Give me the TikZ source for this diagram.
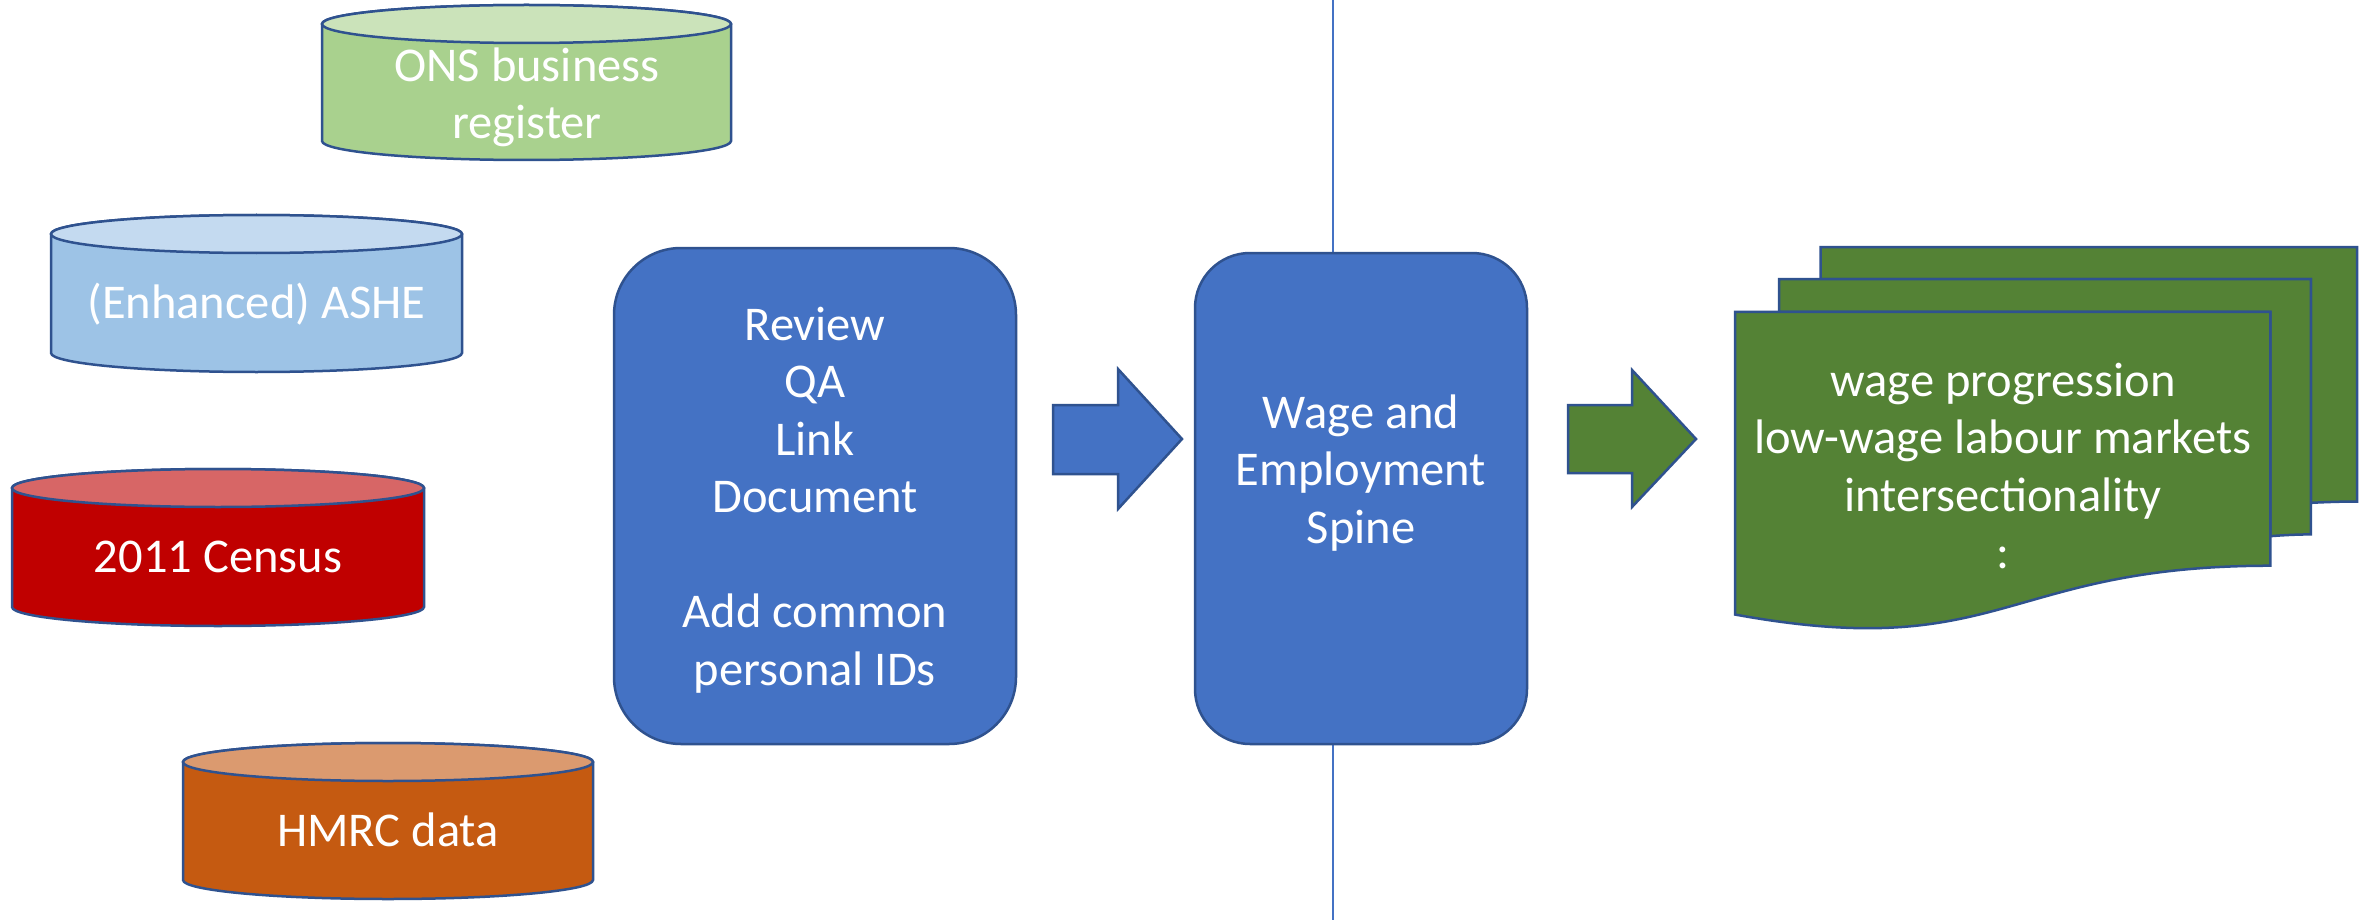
\documentclass[tikz,border=0pt]{standalone}
\usepackage{fontspec}
\setmainfont{Carlito}
\definecolor{bordblue}{HTML}{2F528F}
\definecolor{procblue}{HTML}{4472C4}
\definecolor{docgreen}{HTML}{548235}
\definecolor{onsbody}{HTML}{A9D18E}
\definecolor{onstop}{HTML}{CBE3BA}
\definecolor{ashebody}{HTML}{9DC3E6}
\definecolor{ashetop}{HTML}{C4DAF0}
\definecolor{censbody}{HTML}{C00000}
\definecolor{censtop}{HTML}{D76666}
\definecolor{hmrcbody}{HTML}{C55A11}
\definecolor{hmrctop}{HTML}{DB9A6F}
\tikzset{
  bordered/.style={draw=bordblue, line width=2.5pt, line join=miter},
  procbox/.style={bordered, fill=procblue, rectangle, inner sep=0pt},
  lbl/.style={text=white, font=\fontsize{48.5}{57.5}\selectfont, align=center, inner sep=0pt},
}
\newcommand\dbcyl[6]{%
  \pgfmathsetmacro\cylrx{(#2-#1)/2}%
  \filldraw[bordered, fill=#5] (#1,#3) -- (#1,#4)
     arc[start angle=180, end angle=360, x radius=\cylrx pt, y radius=19pt]
     -- (#2,#3)
     arc[start angle=0, end angle=180, x radius=\cylrx pt, y radius=19pt] -- cycle;
  \filldraw[bordered, fill=#6] ({(#1+#2)/2},#3) ellipse[x radius=\cylrx pt, y radius=19pt];
}
\begin{document}
\begin{tikzpicture}[x=1pt, y=-1pt]
\fill[white] (0,0) rectangle (2369,920);
\useasboundingbox (0,0) rectangle (2369,920);

% divider line
\coordinate (ltop) at (1333,0);
\coordinate (lbot) at (1333,920);
\draw[procblue, line width=1.5pt] (ltop) -- (lbot);

% data sources
\dbcyl{322}{731}{24}{141}{onsbody}{onstop}
\node[lbl] (ons) at (527,98.5) {\strut ONS business\\register\strut};
\dbcyl{51}{462}{234}{353}{ashebody}{ashetop}
\node[lbl, anchor=base] (ashe) at (256.5,318) {(Enhanced) ASHE};
\dbcyl{12}{424}{488}{607}{censbody}{censtop}
\node[lbl, anchor=base] (census) at (218,572) {2011 Census};
\dbcyl{183}{593}{762}{880}{hmrcbody}{hmrctop}
\node[lbl, anchor=base] (hmrc) at (388,846) {HMRC data};

% process boxes
\node[procbox, rounded corners=67pt, minimum width=402pt, minimum height=496pt] (review) at (815,496) {};
\node[lbl] (reviewtext) at (815,501) {\strut Review\\QA\\Link\\Document\\[57.5pt]Add common\\personal IDs\strut};
\node[procbox, rounded corners=55pt, minimum width=332pt, minimum height=491pt] (spine) at (1361,498.5) {};
\node[lbl] (spinetext) at (1361,474) {\strut Wage and\\Employment\\Spine\strut};

% block arrows
\filldraw[bordered, fill=procblue] (1053,405) -- (1118,405) -- (1118,369) -- (1182,439)
   -- (1118,509) -- (1118,474) -- (1053,474) -- cycle;
\filldraw[bordered, fill=docgreen] (1568,405) -- (1632,405) -- (1632,370) -- (1696,439)
   -- (1632,507) -- (1632,473) -- (1568,473) -- cycle;

% multi-document
\begin{scope}[shift={(1735,247)}, x=2.8796pt, y=-1.7685pt]
  \filldraw[bordered, fill=docgreen] (29.72,18.15) -- (29.72,0) -- (216,0) -- (216,143.92)
     .. controls (208,143.92) and (200,144.67) .. (200,144.67) -- (200,18.15) -- cycle;
  \filldraw[bordered, fill=docgreen] (15.32,36.75) -- (15.32,18.15) -- (200,18.15) -- (200,162.52)
     .. controls (192.98,162.52) and (185.95,163.52) .. (185.95,163.52) -- (185.95,36.75) -- cycle;
  \filldraw[bordered, fill=docgreen] (0,207.82) .. controls (92.98,235.42) and (92.98,180.22) .. (185.95,180.22)
     -- (185.95,36.75) -- (0,36.75) -- cycle;
\end{scope}
\node[lbl] (doctext) at (2003,471) {\strut wage progression\\low-wage labour markets\\intersectionality\\:\strut};
\end{tikzpicture}
\end{document}
